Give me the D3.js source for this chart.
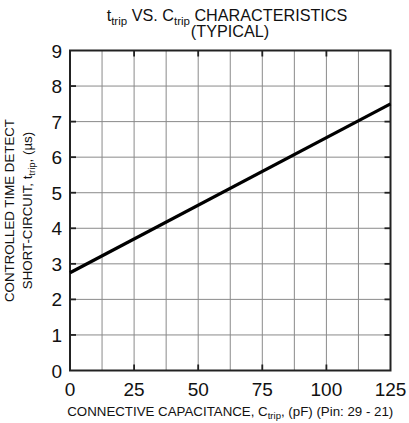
<!doctype html>
<html lang="en">
<head>
  <meta charset="utf-8">
  <title>ttrip vs Ctrip</title>
  <script src="https://cdnjs.cloudflare.com/ajax/libs/d3/7.8.5/d3.min.js"></script>
  <style>
    body { margin: 0; background: #fff; }
    text { font-family: "Liberation Sans", Arial, sans-serif; fill: #111; }
  </style>
</head>
<body>
<svg width="409" height="423" id="svg"></svg>
<script>
  // data
  var capacitance = [0, 125];      // pF
  var tripTime = [2.75, 7.5];      // us
  var xTicks = [0, 25, 50, 75, 100, 125];
  var yTicks = [0, 1, 2, 3, 4, 5, 6, 7, 8, 9];
  var xGrid = [12.5, 25, 37.5, 50, 62.5, 75, 87.5, 100, 112.5];

  // plot box (window.top is reserved, so use own names)
  var pLeft = 70, pRight = 390.5, pTop = 50.5, pBottom = 370.5;

  var svg = d3.select('#svg');

  var x = d3.scaleLinear().domain([0, 125]).range([pLeft, pRight]);
  var y = d3.scaleLinear().domain([0, 9]).range([pBottom, pTop]);

  // grid
  svg.append('g').selectAll('line')
    .data(xGrid).enter().append('line')
    .attr('x1', function(d) { return x(d); }).attr('x2', function(d) { return x(d); })
    .attr('y1', pTop).attr('y2', pBottom)
    .attr('stroke', '#8a8a8a').attr('stroke-width', 1);

  svg.append('g').selectAll('line')
    .data(yTicks.slice(1, -1)).enter().append('line')
    .attr('x1', pLeft).attr('x2', pRight)
    .attr('y1', function(d) { return y(d); }).attr('y2', function(d) { return y(d); })
    .attr('stroke', '#8a8a8a').attr('stroke-width', 1);

  // inner ticks
  var tl = 6;
  svg.append('g').selectAll('line')
    .data(yTicks.slice(1, -1)).enter().append('line')
    .attr('x1', pLeft).attr('x2', pLeft + tl)
    .attr('y1', function(d) { return y(d); }).attr('y2', function(d) { return y(d); })
    .attr('stroke', '#222').attr('stroke-width', 1.8);
  svg.append('g').selectAll('line')
    .data(yTicks.slice(1, -1)).enter().append('line')
    .attr('x1', pRight - tl).attr('x2', pRight)
    .attr('y1', function(d) { return y(d); }).attr('y2', function(d) { return y(d); })
    .attr('stroke', '#222').attr('stroke-width', 1.8);
  svg.append('g').selectAll('line')
    .data(xTicks.slice(1, -1)).enter().append('line')
    .attr('x1', function(d) { return x(d); }).attr('x2', function(d) { return x(d); })
    .attr('y1', pBottom).attr('y2', pBottom - tl)
    .attr('stroke', '#222').attr('stroke-width', 1.8);
  svg.append('g').selectAll('line')
    .data(xTicks.slice(1, -1)).enter().append('line')
    .attr('x1', function(d) { return x(d); }).attr('x2', function(d) { return x(d); })
    .attr('y1', pTop).attr('y2', pTop + tl)
    .attr('stroke', '#222').attr('stroke-width', 1.8);

  // frame
  svg.append('rect')
    .attr('x', pLeft).attr('y', pTop)
    .attr('width', pRight - pLeft).attr('height', pBottom - pTop)
    .attr('fill', 'none').attr('stroke', '#222').attr('stroke-width', 2);

  // data line
  var line = d3.line()
    .x(function(d, i) { return x(capacitance[i]); })
    .y(function(d) { return y(d); });
  svg.append('path')
    .datum(tripTime)
    .attr('d', line)
    .attr('fill', 'none').attr('stroke', '#000').attr('stroke-width', 3.2);

  // tick labels
  svg.append('g').selectAll('text')
    .data(yTicks).enter().append('text')
    .attr('x', pLeft - 8).attr('y', function(d) { return y(d) + 7; })
    .attr('text-anchor', 'end').attr('font-size', 19)
    .text(function(d) { return d; });

  svg.append('g').selectAll('text')
    .data(xTicks).enter().append('text')
    .attr('x', function(d) { return x(d); }).attr('y', pBottom + 25)
    .attr('text-anchor', 'middle').attr('font-size', 19)
    .text(function(d) { return d; });

  // title
  var title = svg.append('text').attr('x', 227).attr('y', 21)
    .attr('text-anchor', 'middle').attr('font-size', 16.2);
  title.append('tspan').text('t');
  title.append('tspan').attr('font-size', 11.5).attr('dy', 3.5).text('trip');
  title.append('tspan').attr('dy', -3.5).text(' VS. C');
  title.append('tspan').attr('font-size', 11.5).attr('dy', 3.5).text('trip');
  title.append('tspan').attr('dy', -3.5).text(' CHARACTERISTICS');
  svg.append('text').attr('x', 230).attr('y', 37)
    .attr('text-anchor', 'middle').attr('font-size', 16.2)
    .text('(TYPICAL)');

  // x axis label
  var xl = svg.append('text').attr('x', (pLeft + pRight) / 2).attr('y', 416)
    .attr('text-anchor', 'middle').attr('font-size', 13.3);
  xl.append('tspan').text('CONNECTIVE CAPACITANCE, C');
  xl.append('tspan').attr('font-size', 9.5).attr('dy', 3).text('trip');
  xl.append('tspan').attr('dy', -3).text(', (pF) (Pin: 29 - 21)');

  // y axis label
  var cy = (pTop + pBottom) / 2;
  svg.append('text')
    .attr('transform', 'translate(14,' + cy + ') rotate(-90)')
    .attr('text-anchor', 'middle').attr('font-size', 13.3)
    .text('CONTROLLED TIME DETECT');
  var yl = svg.append('text')
    .attr('transform', 'translate(31.5,' + cy + ') rotate(-90)')
    .attr('text-anchor', 'middle').attr('font-size', 13.3);
  yl.append('tspan').text('SHORT-CIRCUIT, t');
  yl.append('tspan').attr('font-size', 9.5).attr('dy', 3).text('trip');
  yl.append('tspan').attr('dy', -3).text(', (\u00b5s)');
</script>
</body>
</html>
